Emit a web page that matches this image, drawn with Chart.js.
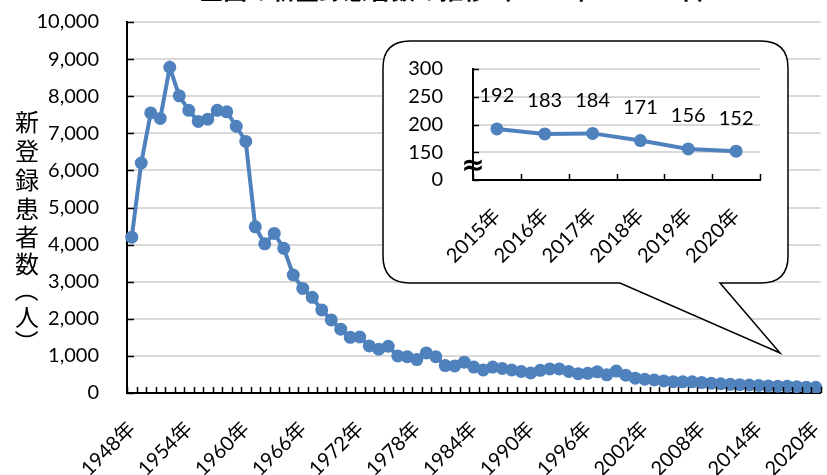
<!DOCTYPE html>
<html><head><meta charset="utf-8">
<script src="https://cdn.jsdelivr.net/npm/chart.js@4/dist/chart.umd.min.js"></script>
<style>
html,body{margin:0;padding:0;background:#fff;}
#wrap{position:relative;width:827px;height:475px;overflow:hidden;background:#fff;}
#main{position:absolute;left:0;top:0;}
#inset{position:absolute;left:385px;top:45px;}
#title{position:absolute;left:0;width:920px;top:-23px;text-align:center;font:bold 24px/24px "Noto Sans CJK JP",sans-serif;color:#000;white-space:nowrap;}
</style></head><body>
<div id="wrap"><canvas id="main" width="827" height="475"></canvas><canvas id="inset" width="400" height="230"></canvas><div id="title"></div></div>
<script>
const years = ["1948年","1949年","1950年","1951年","1952年","1953年","1954年","1955年","1956年","1957年",
"1958年","1959年","1960年","1961年","1962年","1963年","1964年","1965年","1966年","1967年",
"1968年","1969年","1970年","1971年","1972年","1973年","1974年","1975年","1976年","1977年",
"1978年","1979年","1980年","1981年","1982年","1983年","1984年","1985年","1986年","1987年",
"1988年","1989年","1990年","1991年","1992年","1993年","1994年","1995年","1996年","1997年",
"1998年","1999年","2000年","2001年","2002年","2003年","2004年","2005年","2006年","2007年",
"2008年","2009年","2010年","2011年","2012年","2013年","2014年","2015年","2016年","2017年",
"2018年","2019年","2020年"];
const patients = [4200,6200,7550,7400,8780,8010,7620,7320,7380,7620,7580,7190,6780,
4480,4020,4300,3900,3180,2820,2580,2240,1970,1720,
1500,1510,1270,1180,1260,1000,980,900,1080,980,
740,730,830,700,620,700,660,620,580,540,
610,650,650,580,520,530,570,490,590,480,
400,370,350,325,305,300,300,280,265,250,
235,225,215,205,192,183,184,171,156,152];
const insetYears = ["2015年","2016年","2017年","2018年","2019年","2020年"];
const insetValues = [192,183,184,171,156,152];
const yAxisTitle = "新登録患者数（人）";
const chartTitle = "全国の新登録患者数の推移（1948年～2020年）";

document.getElementById('title').textContent = chartTitle;

const blue = '#4F81BD';
const numFont = 'Lato, "Noto Sans CJK JP", sans-serif';
const jpFont = '"Noto Sans CJK JP", sans-serif';

const mainDeco = {
  id: 'mainDeco',
  afterDraw(chart) {
    const ctx = chart.ctx, xs = chart.scales.x, ys = chart.scales.y, ca = chart.chartArea;
    ctx.save();
    ctx.strokeStyle = '#000'; ctx.lineWidth = 1.5;
    const w = xs.getPixelForValue(1) - xs.getPixelForValue(0);
    for (let i = 0; i <= years.length; i++) {
      const bx = Math.round(xs.getPixelForValue(i) - w / 2) + 0.5;
      ctx.beginPath(); ctx.moveTo(bx, ca.bottom); ctx.lineTo(bx, ca.bottom - 6); ctx.stroke();
    }
    ys.ticks.forEach(t => {
      const y = Math.round(ys.getPixelForValue(t.value)) + 0.5;
      ctx.beginPath(); ctx.moveTo(ca.left, y); ctx.lineTo(ca.left + 7, y); ctx.stroke();
    });
    // callout bubble
    const L = 383, T = 41, R = 788, B = 283, r = 27;
    ctx.beginPath();
    ctx.moveTo(L + r, T);
    ctx.lineTo(R - r, T); ctx.quadraticCurveTo(R, T, R, T + r);
    ctx.lineTo(R, B - r); ctx.quadraticCurveTo(R, B, R - r, B);
    ctx.lineTo(720, B); ctx.lineTo(780, 353); ctx.lineTo(620, B);
    ctx.lineTo(L + r, B); ctx.quadraticCurveTo(L, B, L, B - r);
    ctx.lineTo(L, T + r); ctx.quadraticCurveTo(L, T, L + r, T);
    ctx.closePath();
    ctx.fillStyle = '#fff'; ctx.fill();
    ctx.strokeStyle = '#000'; ctx.lineWidth = 1.5; ctx.stroke();
    // vertical y-axis title
    ctx.fillStyle = '#000';
    ctx.font = '24px ' + jpFont;
    ctx.textAlign = 'center'; ctx.textBaseline = 'middle';
    const ys_ = [122, 151, 180, 209, 237, 264, 290, 317, 342];
    [...yAxisTitle].forEach((ch, i) => {
      if (ch === '（' || ch === '）') {
        ctx.save(); ctx.translate(27, ys_[i]); ctx.rotate(Math.PI / 2);
        ctx.fillText(ch, 0, 0); ctx.restore();
      } else {
        ctx.fillText(ch, 27, ys_[i]);
      }
    });
    ctx.restore();
  }
};

new Chart(document.getElementById('main'), {
  type: 'line',
  data: { labels: years, datasets: [{ data: patients, borderColor: blue, backgroundColor: blue,
    borderWidth: 4, pointRadius: 6.5, pointBackgroundColor: blue, pointBorderWidth: 0, tension: 0 }] },
  options: {
    responsive: false, animation: false, devicePixelRatio: 1,
    layout: { padding: { left: 0, top: 22, right: 5, bottom: 0 } },
    plugins: { legend: { display: false }, tooltip: { enabled: false } },
    scales: {
      x: {
        offset: true,
        grid: { display: true, drawOnChartArea: false, drawTicks: false },
        border: { color: '#000', width: 2 },
        ticks: { autoSkip: false, maxRotation: 45, minRotation: 45, padding: 24, color: '#000',
          font: { family: numFont, size: 20 },
          callback: (v, i) => (i % 6 === 0 ? years[i] : '') },
        afterFit: s => { s.height = 82; s.paddingLeft = 0; s.paddingRight = 0; }
      },
      y: {
        min: 0, max: 10000,
        ticks: { stepSize: 1000, autoSkip: false, padding: 28, color: '#000', font: { family: numFont, size: 20 },
          callback: v => v.toLocaleString('en-US') },
        grid: { color: '#d9d9d9', lineWidth: 2, drawTicks: false },
        border: { color: '#000', width: 2 },
        afterFit: s => { s.width = 127; s.paddingTop = 0; s.paddingBottom = 0; }
      }
    }
  },
  plugins: [mainDeco]
});

const insetDeco = {
  id: 'insetDeco',
  afterDraw(chart) {
    const ctx = chart.ctx, xs = chart.scales.x, ys = chart.scales.y, ca = chart.chartArea;
    ctx.save();
    ctx.strokeStyle = '#000'; ctx.lineWidth = 1.5;
    const w = xs.getPixelForValue(1) - xs.getPixelForValue(0);
    for (let i = 0; i <= insetYears.length; i++) {
      const bx = Math.round(xs.getPixelForValue(i) - w / 2) + 0.5;
      ctx.beginPath(); ctx.moveTo(bx, ca.bottom); ctx.lineTo(bx, ca.bottom - 6); ctx.stroke();
    }
    ys.ticks.forEach(t => {
      const y = Math.round(ys.getPixelForValue(t.value)) + 0.5;
      ctx.beginPath(); ctx.moveTo(ca.left, y); ctx.lineTo(ca.left + 6, y); ctx.stroke();
    });
    ctx.fillStyle = '#000';
    ctx.font = '20px ' + numFont;
    ctx.textAlign = 'center'; ctx.textBaseline = 'middle';
    chart.getDatasetMeta(0).data.forEach((p, i) => {
      ctx.fillText(String(insetValues[i]), p.x, p.y - 33);
    });
    ctx.font = 'bold 28px "DejaVu Sans"';
    ctx.fillText('≈', ca.left, (ys.getPixelForValue(150) + ca.bottom) / 2 + 1);
    ctx.restore();
  }
};

new Chart(document.getElementById('inset'), {
  type: 'line',
  data: { labels: insetYears, datasets: [{ data: insetValues, borderColor: blue, backgroundColor: blue,
    borderWidth: 4, pointRadius: 6.5, pointBackgroundColor: blue, pointBorderWidth: 0, tension: 0 }] },
  options: {
    responsive: false, animation: false, devicePixelRatio: 1,
    layout: { padding: { left: 0, top: 24, right: 25, bottom: 0 } },
    plugins: { legend: { display: false }, tooltip: { enabled: false } },
    scales: {
      x: {
        offset: true,
        grid: { display: true, drawOnChartArea: false, drawTicks: false },
        border: { color: '#000', width: 2 },
        ticks: { autoSkip: false, maxRotation: 45, minRotation: 45, padding: 24, color: '#000',
          font: { family: numFont, size: 20 } },
        afterFit: s => { s.height = 95; s.paddingLeft = 0; s.paddingRight = 0; }
      },
      y: {
        min: 100, max: 300,
        ticks: { stepSize: 50, autoSkip: false, padding: 30, color: '#000', font: { family: numFont, size: 20 },
          callback: v => (v === 100 ? '0' : String(v)) },
        grid: { color: '#d9d9d9', lineWidth: 2, drawTicks: false },
        border: { color: '#000', width: 2 },
        afterFit: s => { s.width = 88; s.paddingTop = 0; s.paddingBottom = 0; }
      }
    }
  },
  plugins: [insetDeco]
});
</script>
</body></html>
